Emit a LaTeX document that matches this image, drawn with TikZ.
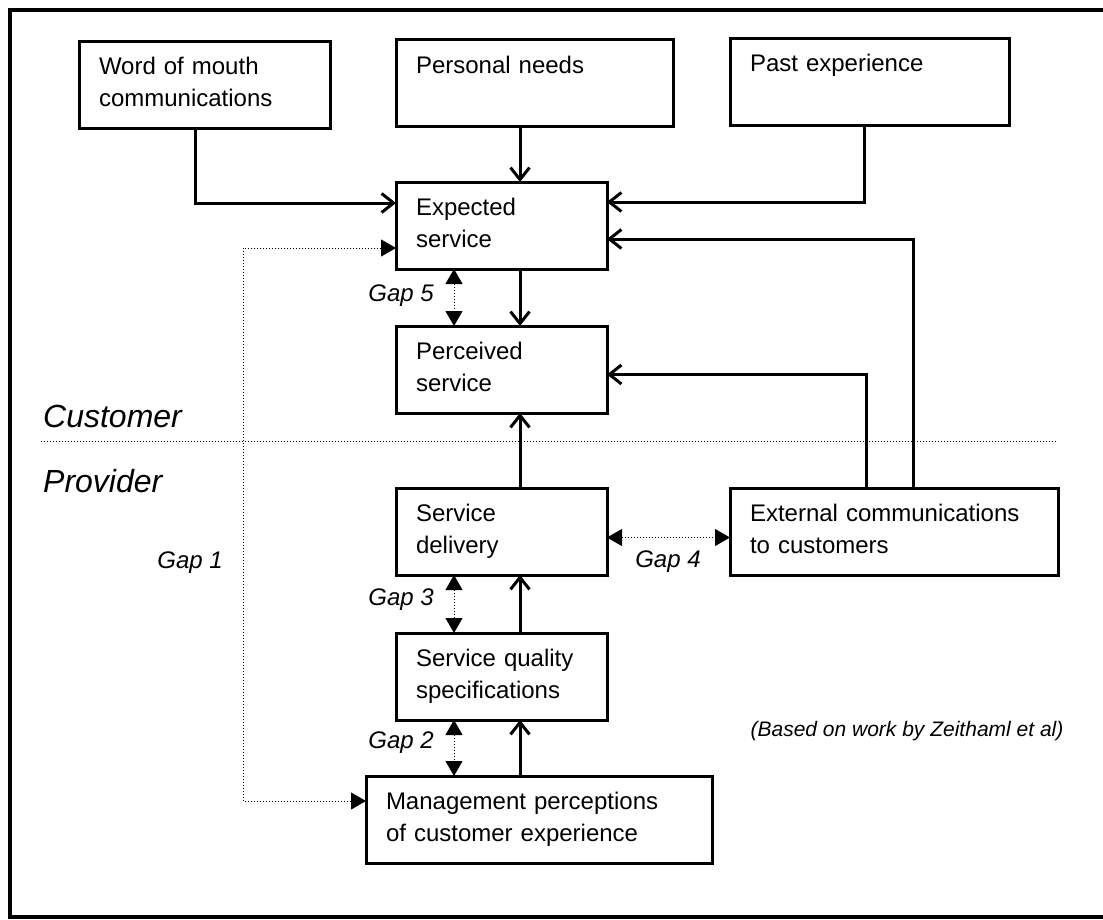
\documentclass[tikz,border=0pt]{standalone}
\usepackage{fontspec}
\setmainfont{Liberation Sans}
\usetikzlibrary{arrows.meta, positioning, calc}

\begin{document}
\begin{tikzpicture}[
  x=1pt, y=-1pt,
  node distance=57pt and 123pt,
  box/.style={draw, line width=3pt, outer sep=0pt, align=left, minimum height=87pt, inner xsep=20pt, inner ysep=0pt, font=\fontsize{24}{32}\selectfont, execute at begin node=\strut, execute at end node=\strut},
  colbox/.style={box, text width=171pt},
  arrow/.style={-{Straight Barb[length=12pt, width=19pt, line width=3pt]}, line width=3pt},
  gap/.style={{Triangle[length=15pt, width=17pt]}-{Triangle[length=15pt, width=17pt]}, line width=1pt, dotted},
  gaplabel/.style={font=\fontsize{24}{28}\selectfont\itshape, inner sep=0pt},
  side/.style={font=\fontsize{32}{38}\selectfont\itshape, inner sep=0pt, anchor=west}
]
\useasboundingbox (0,0) rectangle (1103,919);
\draw[line width=4pt] (1103,9.5) -- (10,9.5) -- (10,916.5) -- (1103,916.5);

% customer side
\node[box, text width=211pt] (wom) at (204.5,84.5) {Word of mouth\\communications};
\node[box, text width=237pt] (needs) at (534.5,83) {Personal needs\\~};
\node[box, text width=239pt] (past) at (869.5,81.5) {Past experience\\~};
\node[colbox] (expected) at (501.5,225.5) {Expected\\service};
\node[colbox, below=57pt of expected] (perceived) {Perceived\\service};

% provider side
\node[colbox, below=75pt of perceived] (delivery) {Service\\delivery};
\node[colbox, below=58pt of delivery] (spec) {Service quality\\specifications};
\node[box, text width=306pt, below=56pt of spec, xshift=37.5pt] (mgmt) {Management perceptions\\of customer experience};
\node[box, text width=288pt, right=of delivery] (extcomm) {External communications\\to customers};

\node[side] (cust) at (43,416) {Customer};
\node[side] (prov) at (43,481) {Provider};
\draw[dotted, line width=1pt] (41,441) -- (1057,441);

\coordinate (flow) at (520,0);
\coordinate (gapx) at (454,0);
\coordinate (gapone) at (243,500);

\draw[arrow] ([xshift=-9.5pt]wom.south) |- ([yshift=22.5pt]expected.west);
\draw[arrow] (needs.south -| flow) -- (expected.north -| flow);
\draw[arrow] ([xshift=-5.5pt]past.south) |- ([yshift=23.5pt]expected.east);
\draw[arrow] ([xshift=19pt]extcomm.north) |- ([yshift=-13.5pt]expected.east);
\draw[arrow] ([xshift=-28pt]extcomm.north) |- ([yshift=-5pt]perceived.east);
\draw[arrow] (expected.south -| flow) -- (perceived.north -| flow);
\draw[arrow] (delivery.north -| flow) -- (perceived.south -| flow);
\draw[arrow] (spec.north -| flow) -- (delivery.south -| flow);
\draw[arrow] (mgmt.north -| flow) -- (spec.south -| flow);

% gaps
\draw[gap] ([yshift=-22.5pt]expected.west) -| (gapone) |- ([yshift=18.5pt]mgmt.west);
\draw[gap] (expected.south -| gapx) -- (perceived.north -| gapx);
\draw[gap] (delivery.south -| gapx) -- (spec.north -| gapx);
\draw[gap] (spec.south -| gapx) -- (mgmt.north -| gapx);
\draw[gap] ([yshift=-6pt]delivery.east) -- ([yshift=-6pt]extcomm.west);

\node[gaplabel, anchor=east] (g1) at (223,563) {Gap 1};
\node[gaplabel, anchor=east] (g5) at (434,296) {Gap 5};
\node[gaplabel, anchor=east] (g3) at (434,600) {Gap 3};
\node[gaplabel, anchor=east] (g2) at (434,743) {Gap 2};
\node[gaplabel] (g4) at (668,562) {Gap 4};

\node[font=\fontsize{21}{25}\selectfont\itshape] (src) at (907,731) {(Based on work by Zeithaml et al)};
\end{tikzpicture}
\end{document}
